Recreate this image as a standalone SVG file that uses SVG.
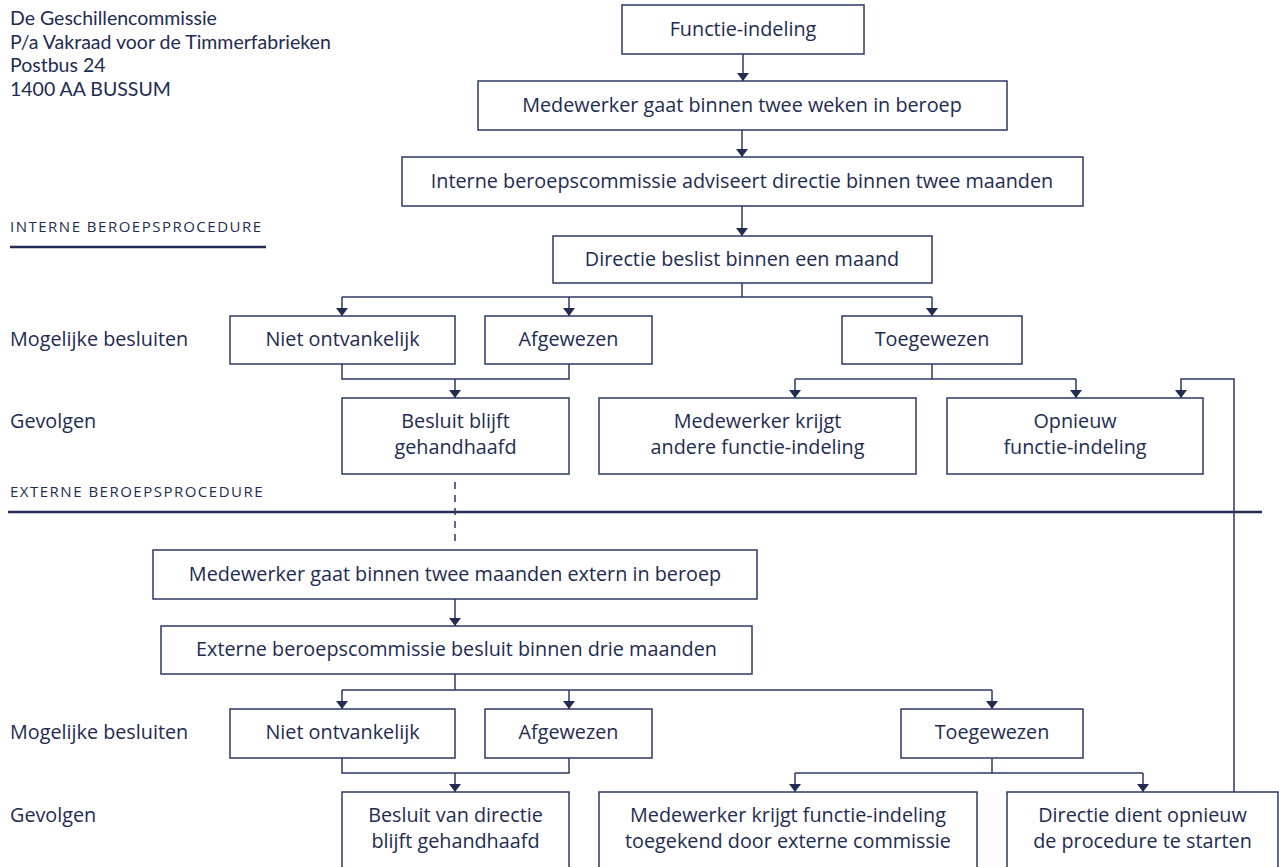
<svg xmlns="http://www.w3.org/2000/svg" width="1279" height="867" viewBox="0 0 1279 867">
<style>
text{font-family:"Open Sans","Noto Sans",sans-serif;fill:#222b52;font-size:19.8px}
.c{text-anchor:middle}
.a{font-family:Lato,"Open Sans",sans-serif;font-size:19.5px}
.h{font-size:15px;letter-spacing:1.5px}
rect{fill:#fff;stroke:#2e3866;stroke-width:1.5}
.ln{fill:none;stroke:#2e3866;stroke-width:1.5}
.sec{stroke:#222b52;stroke-width:2.5}
</style>
<defs>
<marker id="ah" viewBox="0 0 8 12" refX="8" refY="6" markerWidth="8" markerHeight="12" markerUnits="userSpaceOnUse" orient="auto">
<path d="M0,0 L8,6 L0,12 z" fill="#222b52"/>
</marker>
</defs>
<g id="address">
<text class="a" x="10" y="25">De Geschillencommissie</text>
<text class="a" x="10" y="48.5">P/a Vakraad voor de Timmerfabrieken</text>
<text class="a" x="10" y="72">Postbus 24</text>
<text class="a" x="10" y="95.5">1400 AA BUSSUM</text>
</g>
<g id="labels">
<text class="h" x="10" y="232">INTERNE BEROEPSPROCEDURE</text>
<line class="sec" x1="10" y1="247" x2="266" y2="247"/>
<text x="10" y="346">Mogelijke besluiten</text>
<text x="10" y="428">Gevolgen</text>
<text class="h" x="10" y="497">EXTERNE BEROEPSPROCEDURE</text>
<line class="sec" x1="8" y1="512" x2="1262" y2="512"/>
<text x="10" y="739">Mogelijke besluiten</text>
<text x="10" y="822">Gevolgen</text>
</g>
<g id="connectors">
<line class="ln" x1="743" y1="54" x2="743" y2="81" marker-end="url(#ah)"/>
<line class="ln" x1="742" y1="130" x2="742" y2="157" marker-end="url(#ah)"/>
<line class="ln" x1="742" y1="206" x2="742" y2="236" marker-end="url(#ah)"/>
<polyline class="ln" points="742,283 742,297"/>
<polyline class="ln" points="342,297 932,297"/>
<line class="ln" x1="342" y1="297" x2="342" y2="316" marker-end="url(#ah)"/>
<line class="ln" x1="569" y1="297" x2="569" y2="316" marker-end="url(#ah)"/>
<line class="ln" x1="932" y1="297" x2="932" y2="316" marker-end="url(#ah)"/>
<polyline class="ln" points="342,364 342,379 569,379 569,364"/>
<line class="ln" x1="455" y1="379" x2="455" y2="398" marker-end="url(#ah)"/>
<polyline class="ln" points="932,364 932,379"/>
<polyline class="ln" points="795,379 1076,379"/>
<line class="ln" x1="795" y1="379" x2="795" y2="398" marker-end="url(#ah)"/>
<line class="ln" x1="1076" y1="379" x2="1076" y2="398" marker-end="url(#ah)"/>
<polyline class="ln" points="1234,792 1234,379 1181,379 1181,398" marker-end="url(#ah)"/>
<line class="ln" x1="455" y1="482" x2="455" y2="543" stroke-dasharray="7,6"/>
<line class="ln" x1="455" y1="599" x2="455" y2="626" marker-end="url(#ah)"/>
<polyline class="ln" points="455,674 455,690"/>
<polyline class="ln" points="342,690 992,690"/>
<line class="ln" x1="342" y1="690" x2="342" y2="709" marker-end="url(#ah)"/>
<line class="ln" x1="569" y1="690" x2="569" y2="709" marker-end="url(#ah)"/>
<line class="ln" x1="992" y1="690" x2="992" y2="709" marker-end="url(#ah)"/>
<polyline class="ln" points="342,758 342,773 569,773 569,758"/>
<line class="ln" x1="455" y1="773" x2="455" y2="792" marker-end="url(#ah)"/>
<polyline class="ln" points="992,758 992,773"/>
<polyline class="ln" points="795,773 1143,773"/>
<line class="ln" x1="795" y1="773" x2="795" y2="792" marker-end="url(#ah)"/>
<line class="ln" x1="1143" y1="773" x2="1143" y2="792" marker-end="url(#ah)"/>
</g>
<g id="n-functie"><rect x="622" y="5" width="242" height="49"/><text class="c" x="743" y="36">Functie-indeling</text></g>
<g id="n-beroep"><rect x="478" y="81" width="529" height="49"/><text class="c" x="742" y="112">Medewerker gaat binnen twee weken in beroep</text></g>
<g id="n-interne"><rect x="402" y="157" width="681" height="49"/><text class="c" x="742" y="188">Interne beroepscommissie adviseert directie binnen twee maanden</text></g>
<g id="n-directie"><rect x="553" y="236" width="379" height="47"/><text class="c" x="742" y="266">Directie beslist binnen een maand</text></g>
<g id="n-niet1"><rect x="230" y="316" width="225" height="48"/><text class="c" x="342.5" y="346">Niet ontvankelijk</text></g>
<g id="n-afg1"><rect x="485" y="316" width="167" height="48"/><text class="c" x="568.5" y="346">Afgewezen</text></g>
<g id="n-toe1"><rect x="842" y="316" width="180" height="48"/><text class="c" x="932" y="346">Toegewezen</text></g>
<g id="n-besluit1"><rect x="342" y="398" width="227" height="76"/><text class="c" x="455.5" y="428">Besluit blijft</text><text class="c" x="455.5" y="454">gehandhaafd</text></g>
<g id="n-andere"><rect x="599" y="398" width="317" height="76"/><text class="c" x="757.5" y="428">Medewerker krijgt</text><text class="c" x="757.5" y="454">andere functie-indeling</text></g>
<g id="n-opnieuw"><rect x="947" y="398" width="256" height="76"/><text class="c" x="1075" y="428">Opnieuw</text><text class="c" x="1075" y="454">functie-indeling</text></g>
<g id="n-extern"><rect x="153" y="550" width="604" height="49"/><text class="c" x="455" y="581">Medewerker gaat binnen twee maanden extern in beroep</text></g>
<g id="n-externe"><rect x="161" y="626" width="591" height="48"/><text class="c" x="456.5" y="656">Externe beroepscommissie besluit binnen drie maanden</text></g>
<g id="n-niet2"><rect x="230" y="709" width="225" height="49"/><text class="c" x="342.5" y="739">Niet ontvankelijk</text></g>
<g id="n-afg2"><rect x="485" y="709" width="167" height="49"/><text class="c" x="568.5" y="739">Afgewezen</text></g>
<g id="n-toe2"><rect x="901" y="709" width="182" height="49"/><text class="c" x="992" y="739">Toegewezen</text></g>
<g id="n-besluit2"><rect x="342" y="792" width="227" height="100"/><text class="c" x="455.5" y="822">Besluit van directie</text><text class="c" x="455.5" y="848">blijft gehandhaafd</text></g>
<g id="n-toegekend"><rect x="599" y="792" width="378" height="100"/><text class="c" x="788" y="822">Medewerker krijgt functie-indeling</text><text class="c" x="788" y="848">toegekend door externe commissie</text></g>
<g id="n-dient"><rect x="1007" y="792" width="271" height="100"/><text class="c" x="1142.5" y="822">Directie dient opnieuw</text><text class="c" x="1142.5" y="848">de procedure te starten</text></g>
</svg>
